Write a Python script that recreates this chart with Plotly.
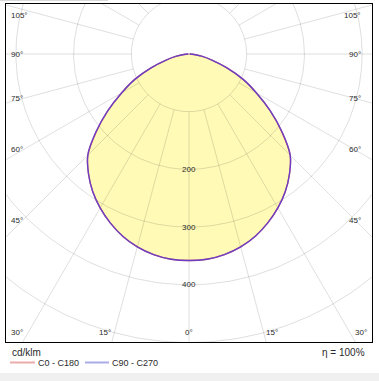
import numpy as np
import plotly.graph_objects as go

# ---------------- data ----------------
gamma_deg = [0, 5, 10, 15, 20, 25, 30, 35, 40, 45, 50, 55, 60, 65, 70, 75, 80, 85, 90]
c0_c180 = [358, 357, 353, 346, 336, 323, 308, 291, 271, 248, 210, 172, 135, 103, 70, 42, 22, 9, 1]
c90_c270 = [358, 357, 353, 346, 336, 323, 308, 291, 271, 248, 211, 172, 135, 103, 70, 42, 22, 9, 1]
ring_values = [100, 200, 300, 400, 500, 600]
ring_label_values = [200, 300, 400]
spoke_step = 15
angle_label_values = [105, 90, 75, 60, 45, 30, 15, 0]
unit_label = "cd/klm"
efficiency_label = "η = 100%"
series_names = ["C0 - C180", "C90 - C270"]

# ---------------- geometry / style ----------------
W, H = 379, 381
ML, MR, MT, MB = 6, 7, 4, 39
PX_PER_CD = 0.577
CX_PX, CY_PX = 189, 54          # pixel position of the pole
plot_w = W - ML - MR
plot_h = H - MT - MB
x_lo = -(CX_PX - ML) / PX_PER_CD
x_hi = (W - MR - CX_PX) / PX_PER_CD
y_hi = (CY_PX - MT) / PX_PER_CD
y_lo = -(H - MB - CY_PX) / PX_PER_CD

grid_col = "rgba(0,0,0,0.13)"
txt_col = "#2a2a2a"
FONT = "Liberation Sans, Arial, sans-serif"
line_cols = ["rgb(225,80,90)", "rgba(85,60,215,0.85)"]
legend_cols = ["rgb(236,170,170)", "rgb(170,170,232)"]


def px_x(px):   # pixel -> paper x
    return (px - ML) / plot_w


def px_y(py):   # pixel -> paper y
    return (H - MB - py) / plot_h


def to_xy(gamma, inten, side):
    g = np.radians(np.asarray(gamma, float))
    r = np.asarray(inten, float)
    return side * r * np.sin(g), -r * np.cos(g)


def full_curve(vals):
    xr, yr = to_xy(gamma_deg, vals, 1)
    xl, yl = to_xy(gamma_deg, vals, -1)
    x = np.concatenate([xl[::-1], xr[1:]])
    y = np.concatenate([yl[::-1], yr[1:]])
    return x, y


fig = go.Figure()

# fill
fx, fy = full_curve(c0_c180)
fig.add_trace(go.Scatter(x=fx, y=fy, mode="lines", fill="toself", line_shape="spline",
                         fillcolor="rgb(255,250,182)", line=dict(width=0, smoothing=1),
                         hoverinfo="skip", showlegend=False))

# rings
t = np.linspace(0, 2 * np.pi, 361)
rx, ry = [], []
for rv in ring_values:
    rx += list(rv * np.cos(t)) + [None]
    ry += list(rv * np.sin(t)) + [None]
fig.add_trace(go.Scatter(x=rx, y=ry, mode="lines", line=dict(color=grid_col, width=1),
                         hoverinfo="skip", showlegend=False))

# spokes
sx, sy = [], []
for a in range(0, 360, spoke_step):
    ar = np.radians(a)
    r0, r1 = ring_values[0], 800
    sx += [r0 * np.sin(ar), r1 * np.sin(ar), None]
    sy += [-r0 * np.cos(ar), -r1 * np.cos(ar), None]
fig.add_trace(go.Scatter(x=sx, y=sy, mode="lines", line=dict(color=grid_col, width=1),
                         hoverinfo="skip", showlegend=False))

# curves
for vals, col, nm in zip([c0_c180, c90_c270], line_cols, series_names):
    cx, cy = full_curve(vals)
    fig.add_trace(go.Scatter(x=cx, y=cy, mode="lines", name=nm,
                             line=dict(color=col, width=1.4, shape="spline", smoothing=1),
                             hoverinfo="skip", showlegend=False))

annotations = []
# ring labels
for rv in ring_label_values:
    annotations.append(dict(x=0, y=-rv, text=str(rv), showarrow=False, xanchor="center",
                            yanchor="middle", font=dict(size=8, color=txt_col, family=FONT)))

# angle labels: positions derived from where each spoke meets an inset frame
inset_side_px = 12
inset_bottom_px = 10
side_shift = {105: 7, 90: 0, 75: -1, 60: -3, 45: -5}
bottom_shift = {30: (-4, 3), 15: (-2, 1)}
for a in angle_label_values:
    ar = np.radians(a)
    for side in ([1, -1] if a != 0 else [1]):
        dx, dy = side * np.sin(ar), -np.cos(ar)
        if a >= 45:
            xe = (x_hi - inset_side_px / PX_PER_CD) * side
            tt = xe / dx
            ye = dy * tt
            annotations.append(dict(x=xe, y=ye, text=f"{a}°", showarrow=False,
                                    xanchor="right" if side > 0 else "left", yanchor="middle",
                                    xshift=3 if side > 0 else -9, yshift=-side_shift[a],
                                    font=dict(size=8, color=txt_col, family=FONT)))
        else:
            ye = y_lo + inset_bottom_px / PX_PER_CD
            tt = ye / dy
            xe = dx * tt
            if a == 0:
                anchor, shift = "center", 0
            elif side < 0:
                anchor, shift = "right", bottom_shift[a][0]
            else:
                anchor, shift = "left", bottom_shift[a][1]
            annotations.append(dict(x=xe, y=ye, text=f"{a}°", showarrow=False,
                                    xanchor=anchor, yanchor="middle", xshift=shift,
                                    font=dict(size=8, color=txt_col, family=FONT)))

annotations.append(dict(xref="paper", yref="paper", x=px_x(10), y=px_y(352),
                        text=unit_label, showarrow=False, xanchor="left", yanchor="middle",
                        font=dict(size=10, color=txt_col, family=FONT)))
annotations.append(dict(xref="paper", yref="paper", x=px_x(367), y=px_y(352),
                        text=efficiency_label, showarrow=False, xanchor="right", yanchor="middle",
                        font=dict(size=10, color=txt_col, family=FONT)))

# hand-drawn legend (below the frame)
legend_line_px = [(10, 35), (85, 109)]
shapes = []
for (l0, l1), col, nm in zip(legend_line_px, legend_cols, series_names):
    shapes.append(dict(type="line", xref="paper", yref="paper", x0=px_x(l0), x1=px_x(l1),
                       y0=px_y(362.5), y1=px_y(362.5), line=dict(color=col, width=2)))
    annotations.append(dict(xref="paper", yref="paper", x=px_x(l1 + 1), y=px_y(362.5), text=nm,
                            showarrow=False, xanchor="left", yanchor="middle",
                            font=dict(size=9, color=txt_col, family=FONT)))

shapes += [
    dict(type="rect", xref="paper", yref="paper", x0=px_x(0), x1=px_x(W),
         y0=px_y(H), y1=px_y(373), fillcolor="#f0f0f0", line=dict(width=0), layer="below"),
    dict(type="line", xref="paper", yref="paper", x0=px_x(0), x1=px_x(108),
         y0=px_y(0.5), y1=px_y(0.5), line=dict(color="#d8d8d8", width=1)),
]

fig.update_layout(
    width=W, height=H,
    margin=dict(l=ML, r=MR, t=MT, b=MB, autoexpand=False),
    paper_bgcolor="white", plot_bgcolor="white",
    xaxis=dict(range=[x_lo, x_hi], showgrid=False, zeroline=False, showticklabels=False,
               ticks="", showline=True, linecolor="black", linewidth=1, mirror=True, fixedrange=True),
    yaxis=dict(range=[y_lo, y_hi], showgrid=False, zeroline=False, showticklabels=False,
               ticks="", showline=True, linecolor="black", linewidth=1, mirror=True, fixedrange=True),
    showlegend=False,
    annotations=annotations,
    shapes=shapes,
)

fig.write_html(
    "out.html",
    config={"displayModeBar": False, "staticPlot": True},
    post_script="document.body.style.margin='0';document.body.style.overflow='hidden';",
)
